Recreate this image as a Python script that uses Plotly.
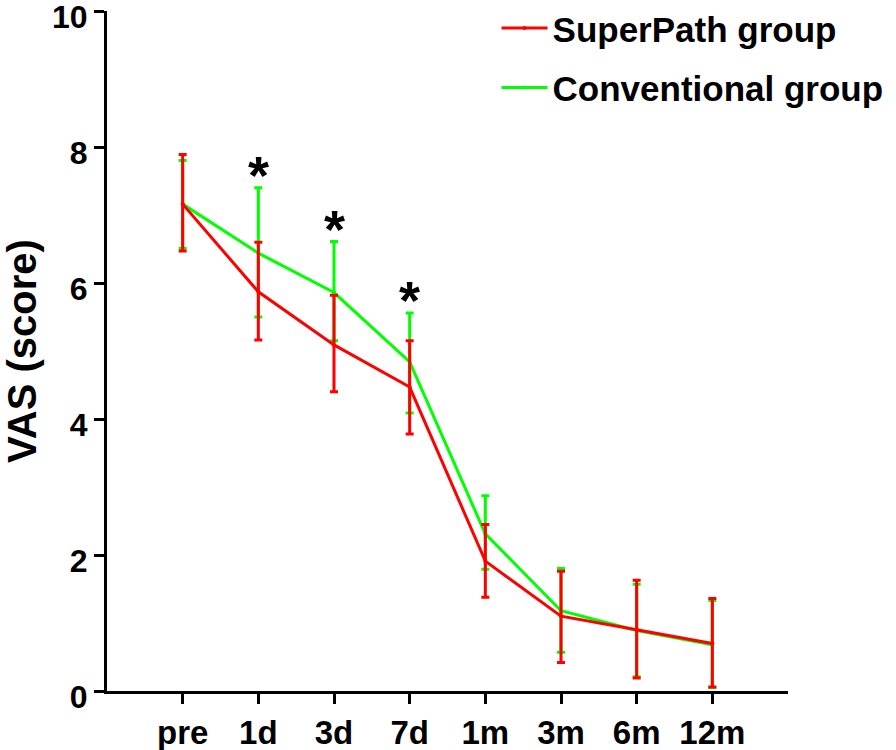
import plotly.graph_objects as go

categories = ["pre", "1d", "3d", "7d", "1m", "3m", "6m", "12m"]

superpath_mean = [7.16, 5.87, 5.09, 4.47, 1.91, 1.10, 0.90, 0.70]
superpath_upper = [7.89, 6.60, 5.82, 5.15, 2.45, 1.76, 1.63, 1.36]
superpath_lower = [6.47, 5.16, 4.40, 3.78, 1.38, 0.42, 0.19, 0.06]

conventional_mean = [7.16, 6.44, 5.86, 4.84, 2.31, 1.18, 0.89, 0.68]
conventional_upper = [7.80, 7.40, 6.61, 5.56, 2.87, 1.80, 1.57, 1.33]
conventional_lower = [6.51, 5.50, 5.15, 4.09, 1.79, 0.57, 0.21, 0.05]

significant = ["1d", "3d", "7d"]

RED = "#ff0000"
GREEN = "#00ff00"
FONT = "Liberation Sans, Arial, sans-serif"

x_idx = list(range(len(categories)))


def err(mean, upper, lower):
    return dict(
        type="data",
        symmetric=False,
        array=[u - m for u, m in zip(upper, mean)],
        arrayminus=[m - l for m, l in zip(mean, lower)],
        thickness=3,
        width=4,
    )


fig = go.Figure()
fig.add_trace(go.Scatter(
    x=x_idx, y=conventional_mean, name="Conventional group",
    mode="lines+markers", line=dict(color=GREEN, width=3),
    marker=dict(size=4, color=GREEN),
    error_y={**err(conventional_mean, conventional_upper, conventional_lower), "color": GREEN},
    legendgroup="b", legendrank=2,
))
fig.add_trace(go.Scatter(
    x=x_idx, y=superpath_mean, name="SuperPath group",
    mode="lines+markers", line=dict(color=RED, width=3),
    marker=dict(size=4, color=RED),
    error_y={**err(superpath_mean, superpath_upper, superpath_lower), "color": RED},
    legendgroup="a", legendrank=1,
))

for cat in significant:
    i = categories.index(cat)
    fig.add_annotation(
        x=i, y=conventional_upper[i], text="*", showarrow=False,
        yanchor="bottom", yshift=-19,
        font=dict(family=FONT, size=54, color="black", weight="bold"),
    )

fig.update_layout(
    width=896, height=750,
    margin=dict(l=107, r=108, t=11, b=59, pad=0, autoexpand=False),
    plot_bgcolor="white", paper_bgcolor="white",
    font=dict(family=FONT, color="black", weight="bold"),
    showlegend=True,
    legend=dict(
        x=0.572, y=1.018, xanchor="left", yanchor="top",
        font=dict(family=FONT, size=35, color="black", weight="bold"),
        traceorder="grouped", tracegroupgap=11,
        bgcolor="rgba(0,0,0,0)", itemwidth=46,
    ),
    xaxis=dict(
        range=[-1, 8], tickmode="array", tickvals=x_idx, ticktext=categories,
        showline=True, linecolor="black", linewidth=3,
        ticks="outside", ticklen=10, tickwidth=3, tickcolor="black",
        showgrid=False, zeroline=False, automargin=False,
        tickfont=dict(family=FONT, size=33, color="black", weight="bold"),
    ),
    yaxis=dict(
        range=[0, 10], tickvals=[0, 2, 4, 6, 8, 10],
        showline=True, linecolor="black", linewidth=3,
        ticks="outside", ticklen=10, tickwidth=3, tickcolor="black",
        showgrid=False, zeroline=False, automargin=False,
        ticklabeloverflow="allow", ticklabelshift=6,
        tickfont=dict(family=FONT, size=32, color="black", weight="bold"),
        title=dict(text="VAS (score)", standoff=8,
                   font=dict(family=FONT, size=40, color="black", weight="bold")),
    ),
)

fig.write_html(
    "out.html",
    config={"displayModeBar": False},
    post_script="document.body.style.margin='0px';document.body.style.overflow='hidden';",
)
